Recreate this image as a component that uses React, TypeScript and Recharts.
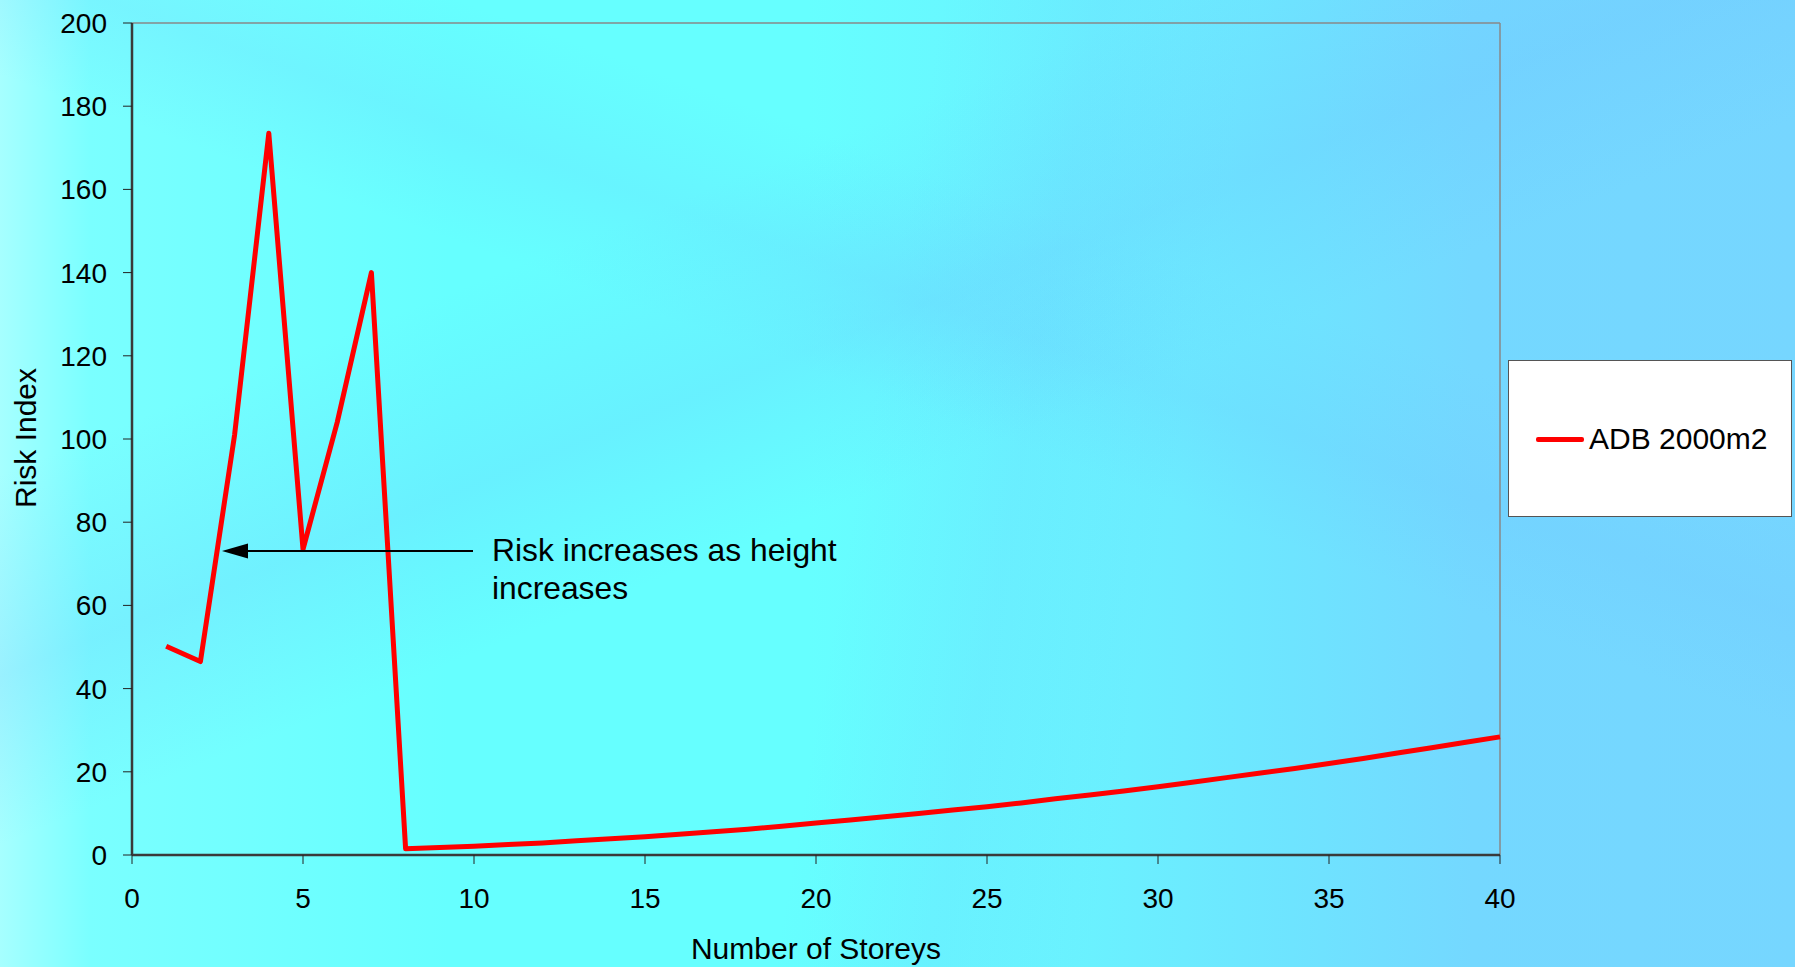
import React from "react"
import { Line, LineChart, ReferenceLine, XAxis, YAxis } from "recharts"

const storeys = [
  1, 2, 3, 4, 5, 6, 7, 8, 9, 10, 11, 12, 13, 14, 15, 16, 17, 18, 19, 20,
  21, 22, 23, 24, 25, 26, 27, 28, 29, 30, 31, 32, 33, 34, 35, 36, 37, 38, 39, 40,
]
const riskIndex = [
  50.2, 46.5, 101, 173.5, 73.5, 104, 140, 1.5, 1.8, 2.1, 2.5, 2.9, 3.4, 3.9, 4.4, 5.0, 5.6, 6.2, 6.9, 7.7,
  8.4, 9.2, 10.0, 10.8, 11.6, 12.5, 13.5, 14.4, 15.4, 16.4, 17.5, 18.6, 19.7, 20.8, 22.0, 23.2, 24.5, 25.8, 27.1, 28.4,
]
const xTicks = [0, 5, 10, 15, 20, 25, 30, 35, 40]
const yTicks = [0, 20, 40, 60, 80, 100, 120, 140, 160, 180, 200]
const seriesName = "ADB 2000m2"

const font = "Arial, 'Liberation Sans', sans-serif"

const data = storeys.map((s, i) => ({ storeys: s, risk: riskIndex[i] }))

// legend drawn by hand so it doesn't eat into the plot area
function LegendBox() {
  return (
    <div
      style={{
        position: "absolute",
        left: 1508,
        top: 360,
        width: 282,
        height: 155,
        background: "#fff",
        border: "1px solid #555",
        fontFamily: font,
      }}
    >
      <div style={{ position: "absolute", left: 27, top: 76, width: 48, height: 5, background: "#ff0000", borderRadius: 2 }} />
      <div style={{ position: "absolute", left: 80, top: 61, fontSize: 30, lineHeight: "34px", color: "#000", whiteSpace: "nowrap" }}>
        {seriesName}
      </div>
    </div>
  )
}

const bg = [
  // faint bands of the slide background
  "linear-gradient(158deg, rgba(255,255,255,0) 28%, rgba(110,190,255,0.22) 40%, rgba(255,255,255,0) 50%)",
  "linear-gradient(20deg, rgba(255,255,255,0) 55%, rgba(110,190,255,0.16) 62%, rgba(255,255,255,0) 70%)",
  "linear-gradient(100deg, rgba(255,255,255,0) 48%, rgba(110,200,255,0.15) 56%, rgba(255,255,255,0) 64%)",
  "linear-gradient(to right, #a6ffff 0%, #7affff 5%, #66ffff 25%, #66ffff 45%, #6af2ff 60%, #6ee4ff 72%, #74d8ff 82%, #76d6ff 100%)",
].join(",")

export default function App() {
  return (
    <div
      style={{
        position: "relative",
        width: 1795,
        height: 967,
        overflow: "hidden",
        fontFamily: font,
        background: bg,
      }}
    >
      <style>{"body{margin:0}"}</style>
      <LineChart
        width={1795}
        height={967}
        data={data}
        margin={{ top: 23, right: 295, bottom: 52, left: 32 }}
      >
        <XAxis
          dataKey="storeys"
          type="number"
          domain={[0, 40]}
          ticks={xTicks}
          height={60}
          tickSize={9}
          tickMargin={24}
          axisLine={{ stroke: "#3a3a3a", strokeWidth: 2.5 }}
          tickLine={{ stroke: "#222" }}
          tick={{ fill: "#000", fontSize: 28, fontFamily: font }}
        />
        <YAxis
          type="number"
          domain={[0, 200]}
          ticks={yTicks}
          width={100}
          tickSize={9}
          tickMargin={16}
          axisLine={{ stroke: "#3a3a3a", strokeWidth: 2.5 }}
          tickLine={{ stroke: "#222" }}
          tick={{ fill: "#000", fontSize: 28, fontFamily: font }}
        />
        <ReferenceLine y={200} stroke="#888" strokeWidth={1.5} />
        <ReferenceLine x={40} stroke="#888" strokeWidth={1.5} />
        <Line
          type="linear"
          dataKey="risk"
          name={seriesName}
          stroke="#ff0000"
          strokeWidth={5}
          strokeLinejoin="round"
          dot={false}
          activeDot={false}
          isAnimationActive={false}
        />
      </LineChart>
      <LegendBox />
      <svg
        width={1795}
        height={967}
        style={{ position: "absolute", left: 0, top: 0, pointerEvents: "none" }}
      >
        <line x1={473} y1={551} x2={245} y2={551} stroke="#000" strokeWidth={2} />
        <polygon points="222,551 248,543.5 248,558.5" fill="#000" />
        <text x={492} y={561} fontSize={31.8} fontFamily={font} fill="#000">
          Risk increases as height
        </text>
        <text x={492} y={599} fontSize={31.8} fontFamily={font} fill="#000">
          increases
        </text>
        <text x={816} y={959} fontSize={30} fontFamily={font} fill="#000" textAnchor="middle">
          Number of Storeys
        </text>
        <text
          x={36}
          y={438}
          fontSize={30}
          fontFamily={font}
          fill="#000"
          textAnchor="middle"
          transform="rotate(-90 36 438)"
        >
          Risk Index
        </text>
      </svg>
    </div>
  )
}
